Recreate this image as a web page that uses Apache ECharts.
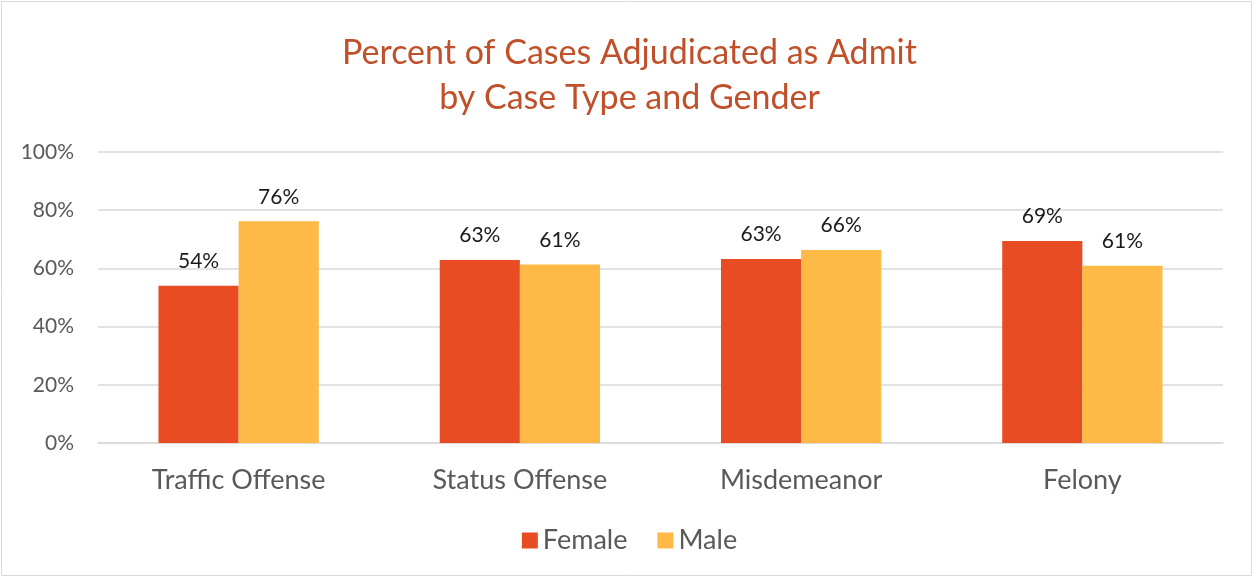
<!DOCTYPE html>
<html>
<head>
<meta charset="utf-8">
<script src="https://cdn.jsdelivr.net/npm/echarts@6/dist/echarts.min.js"></script>
<style>
  html, body { margin: 0; padding: 0; background: #fff; }
  #chart { width: 1259px; height: 579px; }
</style>
</head>
<body>
<div id="chart"></div>
<script>
const categories = ["Traffic Offense", "Status Offense", "Misdemeanor", "Felony"];
const female = [54, 63, 63, 69];
const male = [76, 61, 66, 61];
// exact bar heights
const femaleHeights = [54.0, 62.9, 63.2, 69.4];
const maleHeights = [76.2, 61.3, 66.3, 60.9];

const fontFamily = "Lato, 'Open Sans', sans-serif";
const colors = ["#E84C22", "#FFB946"];

let myChart = echarts.init(document.getElementById("chart"));

function barData(heights, labels) {
  return heights.map((h, i) => ({ value: h, label: { formatter: labels[i] + "%" } }));
}

const labelStyle = {
  show: true,
  position: "top",
  distance: 14,
  fontFamily: fontFamily,
  fontSize: 21,
  color: "#1a1a1a",
};

const option = {
  color: colors,
  animation: false,
  title: {
    text: "Percent of Cases Adjudicated as Admit\nby Case Type and Gender",
    left: "center",
    top: 26,
    textStyle: {
      color: "#C0502A",
      fontFamily: fontFamily,
      fontWeight: "normal",
      fontSize: 34,
      lineHeight: 45,
    },
  },
  graphic: [
    {
      type: "rect",
      shape: { x: 1.5, y: 1.5, width: 1250, height: 574 },
      style: { fill: "none", stroke: "#D9D9D9", lineWidth: 1 },
      silent: true,
    },
  ],
  legend: {
    bottom: 20,
    left: "center",
    itemWidth: 16,
    itemHeight: 16,
    itemGap: 30,
    icon: "rect",
    textStyle: { fontFamily: fontFamily, fontSize: 27, color: "#595959" },
    data: ["Female", "Male"],
  },
  grid: { left: 98, right: 36, top: 152, bottom: 136 },
  xAxis: {
    type: "category",
    data: categories,
    axisTick: { show: false },
    axisLine: { lineStyle: { color: "#D9D9D9", width: 1.5 } },
    axisLabel: { fontFamily: fontFamily, fontSize: 27, color: "#595959", margin: 24 },
  },
  yAxis: {
    type: "value",
    min: 0,
    max: 100,
    interval: 20,
    axisLabel: {
      formatter: "{value}%",
      fontFamily: fontFamily,
      fontSize: 21,
      color: "#595959",
      margin: 24,
    },
    splitLine: { lineStyle: { color: "#D9D9D9", width: 1.5 } },
  },
  series: [
    {
      name: "Female",
      type: "bar",
      barGap: "0%",
      barCategoryGap: "43%",
      data: barData(femaleHeights, female),
      label: labelStyle,
    },
    {
      name: "Male",
      type: "bar",
      data: barData(maleHeights, male),
      label: labelStyle,
    },
  ],
};

myChart.setOption(option);
</script>
</body>
</html>
